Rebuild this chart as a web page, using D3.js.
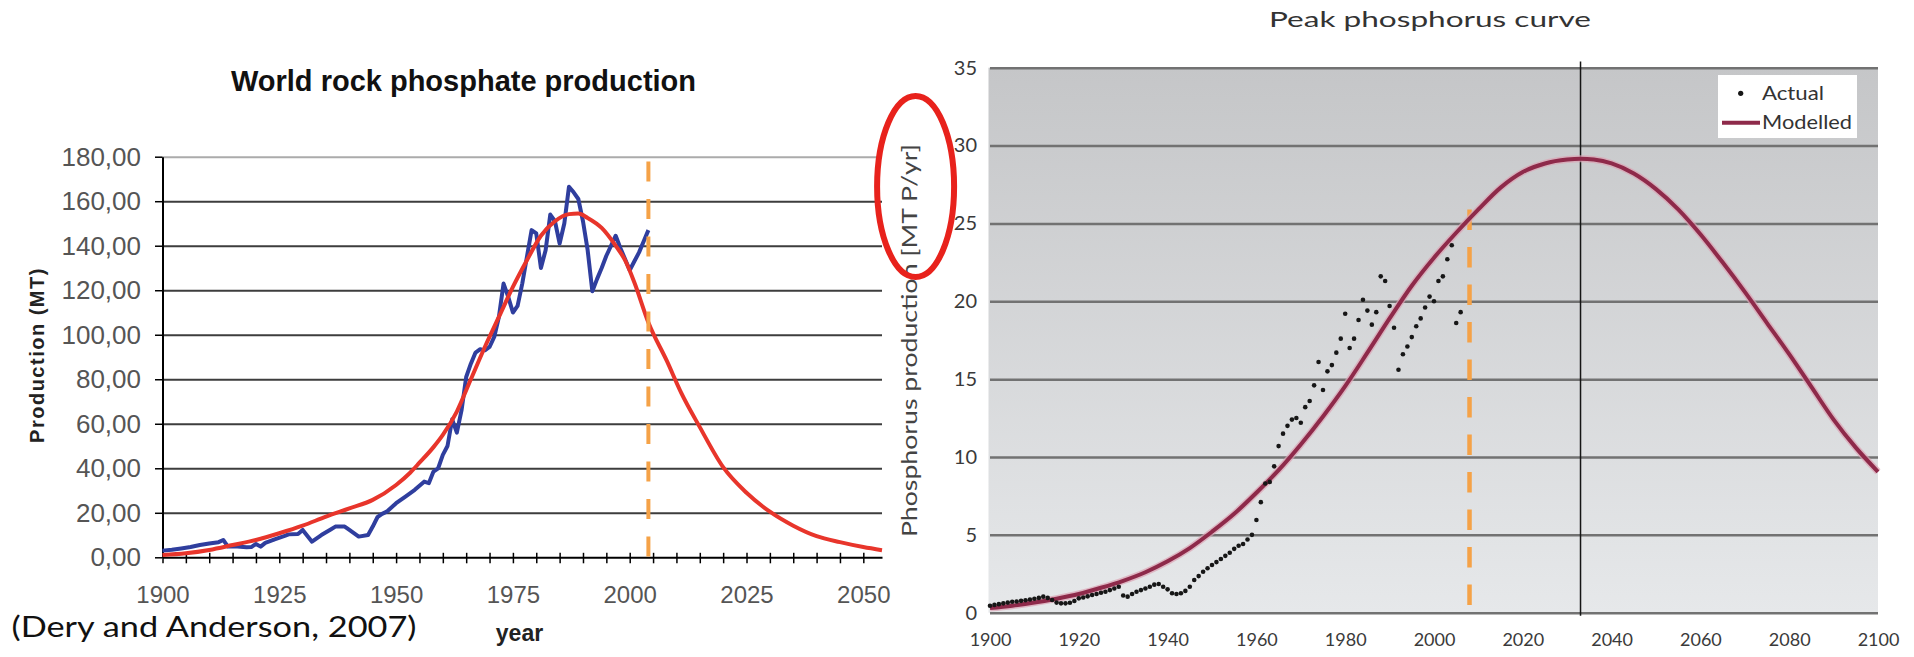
<!DOCTYPE html>
<html>
<head>
<meta charset="utf-8">
<script src="https://cdn.jsdelivr.net/npm/d3@7"></script>
<style>
  body { margin: 0; background: #fff; }
  svg { display: block; }
</style>
</head>
<body>
<svg id="chart" width="1914" height="657"></svg>
<script>
// ---- data ----

// left chart: world rock phosphate production (MT), actual and fitted
var rockActual = [
  [1900, 3.0], [1902, 3.4], [1904, 4.0], [1906, 4.6], [1908, 5.5], [1910, 6.2], [1912, 6.8],
  [1913, 7.8], [1914, 4.8], [1916, 4.8], [1918, 4.5], [1919, 4.6], [1920, 6.0], [1921, 4.8],
  [1922, 6.5], [1924, 8.1], [1926, 9.5], [1927, 10.3], [1929, 10.5], [1930, 12.3], [1932, 7.0],
  [1933, 8.5], [1934, 10.0], [1936, 12.5], [1937, 13.8], [1939, 13.8], [1940, 12.3], [1942, 9.3],
  [1944, 10.0], [1945, 13.8], [1946, 18.0], [1947, 19.5], [1948, 20.5], [1950, 24.3], [1952, 27.3],
  [1954, 30.3], [1956, 34.0], [1957, 33.3], [1958, 38.5], [1959, 40.0], [1960, 46.0], [1961, 50.0],
  [1962, 62.0], [1963, 56.0], [1964, 66.0], [1965, 81.0], [1966, 87.0], [1967, 92.0], [1968, 93.5],
  [1969, 93.0], [1970, 94.5], [1971, 99.0], [1972, 108.0], [1973, 123.0], [1974, 117.0], [1975, 110.0],
  [1976, 113.0], [1977, 123.0], [1978, 135.0], [1979, 147.0], [1980, 145.5], [1981, 130.0], [1982, 138.0],
  [1983, 154.0], [1984, 151.0], [1985, 141.0], [1986, 150.0], [1987, 166.5], [1988, 164.0], [1989, 161.0],
  [1990, 151.0], [1991, 138.0], [1992, 119.5], [1993, 125.0], [1994, 130.0], [1995, 135.5], [1996, 140.0],
  [1997, 144.5], [1998, 139.0], [1999, 134.0], [2000, 129.0], [2001, 133.0], [2002, 137.0], [2003, 142.0],
  [2004, 147.0]
];

var rockModel = [
  [1900, 1.0], [1905, 1.8], [1910, 3.3], [1915, 5.5], [1920, 7.8], [1925, 10.8], [1930, 14.2],
  [1935, 18.3], [1940, 22.0], [1945, 25.8], [1950, 32.5], [1953, 38.0], [1955, 42.5], [1958, 49.5],
  [1960, 55.0], [1963, 65.5], [1966, 80.0], [1969, 94.5], [1972, 108.0], [1975, 121.5], [1978, 133.5],
  [1981, 144.5], [1984, 151.0], [1987, 154.2], [1989, 154.5], [1991, 152.5], [1994, 148.0], [1997, 140.0],
  [1999, 133.5], [2001, 123.5], [2004, 105.5], [2008, 88.0], [2011, 74.0], [2015, 58.5], [2020, 40.5],
  [2025, 29.0], [2030, 20.5], [2035, 14.2], [2040, 9.5], [2045, 6.8], [2050, 4.6], [2054, 3.2]
];

var rockYTicks = [0, 20, 40, 60, 80, 100, 120, 140, 160, 180];
var rockXTicks = [1900, 1925, 1950, 1975, 2000, 2025, 2050];
var rockCutoffYear = 2004;

// right chart: peak phosphorus curve (MT P/yr)
var phosActual = [
  [1900, 0.45], [1901, 0.5], [1902, 0.55], [1903, 0.6], [1904, 0.65], [1905, 0.7], [1906, 0.72],
  [1907, 0.76], [1908, 0.8], [1909, 0.85], [1910, 0.9], [1911, 0.95], [1912, 1.03], [1913, 0.95],
  [1914, 0.82], [1915, 0.65], [1916, 0.6], [1917, 0.6], [1918, 0.64], [1919, 0.75], [1920, 0.92],
  [1921, 0.98], [1922, 1.05], [1923, 1.14], [1924, 1.2], [1925, 1.28], [1926, 1.35], [1927, 1.45],
  [1928, 1.55], [1929, 1.67], [1930, 1.1], [1931, 1.03], [1932, 1.2], [1933, 1.35], [1934, 1.45],
  [1935, 1.55], [1936, 1.67], [1937, 1.8], [1938, 1.84], [1939, 1.67], [1940, 1.5], [1941, 1.25],
  [1942, 1.2], [1943, 1.25], [1944, 1.4], [1945, 1.67], [1946, 2.1], [1947, 2.35], [1948, 2.63],
  [1949, 2.85], [1950, 3.06], [1951, 3.25], [1952, 3.45], [1953, 3.65], [1954, 3.85], [1955, 4.1],
  [1956, 4.3], [1957, 4.41], [1958, 4.7], [1959, 5.0], [1960, 5.95], [1961, 7.1], [1962, 8.3],
  [1963, 8.4], [1964, 9.4], [1965, 10.7], [1966, 11.5], [1967, 12.0], [1968, 12.4], [1969, 12.5],
  [1970, 12.2], [1971, 13.2], [1972, 13.6], [1973, 14.6], [1974, 16.1], [1975, 14.3], [1976, 15.5],
  [1977, 15.9], [1978, 16.7], [1979, 17.6], [1980, 19.2], [1981, 17.0], [1982, 17.6], [1983, 18.8],
  [1984, 20.1], [1985, 19.4], [1986, 18.5], [1987, 19.3], [1988, 21.6], [1989, 21.3], [1990, 19.7],
  [1991, 18.3], [1992, 15.6], [1993, 16.6], [1994, 17.1], [1995, 17.7], [1996, 18.4], [1997, 18.9],
  [1998, 19.6], [1999, 20.3], [2000, 20.0], [2001, 21.3], [2002, 21.6], [2003, 22.7], [2004, 23.6],
  [2005, 18.6], [2006, 19.3]
];

var phosModel = [
  [1900, 0.3], [1905, 0.45], [1910, 0.65], [1915, 0.9], [1920, 1.2], [1925, 1.6], [1930, 2.05],
  [1935, 2.6], [1940, 3.3], [1945, 4.15], [1950, 5.2], [1955, 6.35], [1960, 7.7], [1965, 9.15],
  [1970, 10.8], [1975, 12.6], [1980, 14.55], [1985, 16.7], [1990, 18.9], [1995, 21.0], [2000, 22.8],
  [2005, 24.4], [2010, 25.9], [2015, 27.3], [2020, 28.3], [2025, 28.85], [2030, 29.1], [2033, 29.15],
  [2036, 29.1], [2040, 28.85], [2045, 28.2], [2050, 27.2], [2055, 25.9], [2060, 24.3], [2065, 22.5],
  [2070, 20.6], [2075, 18.6], [2080, 16.6], [2085, 14.5], [2090, 12.4], [2095, 10.6], [2100, 9.05]
];

var phosYTicks = [0, 5, 10, 15, 20, 25, 30, 35];
var phosXTicks = [1900, 1920, 1940, 1960, 1980, 2000, 2020, 2040, 2060, 2080, 2100];
var phosCutoffYear = 2008;
var phosPeakYear = 2033;

// ---- drawing ----
var svg = d3.select('#chart');

// ===== left chart =====
var xRock = d3.scaleLinear().domain([1900, 2054]).range([162.5, 882]);
var yRock = d3.scaleLinear().domain([0, 180]).range([557.3, 156.7]);
var rockWidth = xRock.range()[1] - xRock.range()[0];
var armFont = "'Liberation Sans', Arial, sans-serif";

var rockG = svg.append('g').attr('font-family', armFont);

// horizontal gridlines
var rockGrid = rockG.append('g')
  .attr('transform', 'translate(' + xRock(1900) + ',0)')
  .call(d3.axisLeft(yRock).tickValues(rockYTicks.slice(1)).tickSize(-rockWidth).tickFormat(''));
rockGrid.select('.domain').remove();
rockGrid.selectAll('.tick line')
  .attr('stroke', function(d) { return d === 180 ? '#ababab' : '#3d3d3d'; })
  .attr('stroke-width', 2);

// y axis with comma decimals
var commaFmt = function(d) { return d3.format('.2f')(d).replace('.', ','); };
var rockY = rockG.append('g')
  .attr('transform', 'translate(' + xRock(1900) + ',0)')
  .call(d3.axisLeft(yRock).tickValues(rockYTicks).tickSize(7.5).tickSizeOuter(0).tickPadding(14).tickFormat(commaFmt));
rockY.attr('font-size', 26).attr('font-family', armFont);
rockY.select('.domain').attr('stroke', '#000').attr('stroke-width', 2);
rockY.selectAll('.tick line').attr('stroke', '#000').attr('stroke-width', 1.5);
rockY.selectAll('text').attr('fill', '#555');

// x axis: tick marks every 5 years crossing the axis
var rockX = rockG.append('g')
  .attr('transform', 'translate(0,' + yRock(0) + ')')
  .call(d3.axisBottom(xRock).tickValues(d3.range(1900, 2051, 5)).tickSize(6).tickSizeOuter(0).tickFormat(''));
rockX.select('.domain').attr('stroke', '#000').attr('stroke-width', 2);
rockX.selectAll('.tick line').attr('y1', -4.5).attr('stroke', '#000').attr('stroke-width', 1.5);

// x labels
var rockXLab = rockG.append('g')
  .attr('transform', 'translate(0,' + yRock(0) + ')')
  .call(d3.axisBottom(xRock).tickValues(rockXTicks).tickSize(0).tickPadding(29).tickFormat(d3.format('d')));
rockXLab.attr('font-size', 24).attr('font-family', armFont);
rockXLab.select('.domain').remove();
rockXLab.selectAll('text').attr('fill', '#555');

// series
var rockLine = d3.line()
  .x(function(d) { return xRock(d[0]); })
  .y(function(d) { return yRock(d[1]); });

rockG.append('path')
  .datum(rockActual)
  .attr('d', rockLine)
  .attr('fill', 'none')
  .attr('stroke', '#2f3e9e')
  .attr('stroke-width', 4)
  .attr('stroke-linejoin', 'round');

rockG.append('path')
  .datum(rockModel)
  .attr('d', rockLine.curve(d3.curveMonotoneX))
  .attr('fill', 'none')
  .attr('stroke', '#e8352b')
  .attr('stroke-width', 4);

// orange cut-off marker
rockG.append('line')
  .attr('x1', xRock(rockCutoffYear)).attr('x2', xRock(rockCutoffYear))
  .attr('y1', yRock(177.8)).attr('y2', yRock(0.2))
  .attr('stroke', '#f5a247')
  .attr('stroke-width', 4)
  .attr('stroke-dasharray', '20,17.5');

// titles
rockG.append('text')
  .attr('x', 463.5).attr('y', 91)
  .attr('text-anchor', 'middle')
  .attr('font-size', 29).attr('font-weight', 'bold')
  .attr('fill', '#111')
  .text('World rock phosphate production');

rockG.append('text')
  .attr('transform', 'translate(37,355) rotate(-90)')
  .attr('dy', '0.35em')
  .attr('text-anchor', 'middle')
  .attr('font-size', 20).attr('font-weight', 'bold')
  .attr('letter-spacing', 1.5)
  .attr('fill', '#222')
  .text('Production (MT)');

rockG.append('text')
  .attr('x', 519.5).attr('y', 641)
  .attr('text-anchor', 'middle')
  .attr('font-size', 23).attr('font-weight', 'bold')
  .attr('fill', '#222')
  .text('year');

svg.append('text')
  .attr('x', 11.5).attr('y', 637)
  .attr('font-family', "Lato, 'Open Sans', sans-serif")
  .attr('font-size', 28)
  .attr('textLength', 405)
  .attr('lengthAdjust', 'spacingAndGlyphs')
  .attr('fill', '#111')
  .text('(Dery and Anderson, 2007)');

// ===== right chart =====
var xPhos = d3.scaleLinear().domain([1900, 2100]).range([990, 1878]);
var yPhos = d3.scaleLinear().domain([0, 35]).range([612.7, 67.7]);
var phosFont = "Lato, 'DejaVu Sans', sans-serif";

var phosG = svg.append('g').attr('font-family', phosFont);

// gray gradient plot background
var grad = svg.append('defs').append('linearGradient')
  .attr('id', 'phosBg')
  .attr('x1', 0).attr('y1', 0).attr('x2', 0).attr('y2', 1);
grad.append('stop').attr('offset', 0).attr('stop-color', '#c5c6c8');
grad.append('stop').attr('offset', 1).attr('stop-color', '#e6e8ea');

phosG.append('rect')
  .attr('x', xPhos(1900) - 1.5).attr('y', yPhos(35))
  .attr('width', xPhos(2100) - xPhos(1900) + 1.5)
  .attr('height', yPhos(0) - yPhos(35))
  .attr('fill', 'url(#phosBg)');

// gridlines
var phosGrid = phosG.append('g')
  .attr('transform', 'translate(' + xPhos(1900) + ',0)')
  .call(d3.axisLeft(yPhos).tickValues(phosYTicks).tickSize(-(xPhos(2100) - xPhos(1900))).tickFormat(''));
phosGrid.select('.domain').remove();
phosGrid.selectAll('.tick line').attr('stroke', '#727272').attr('stroke-width', 2.5);

// y labels
var phosY = phosG.append('g')
  .attr('transform', 'translate(' + xPhos(1900) + ',0)')
  .call(d3.axisLeft(yPhos).tickValues(phosYTicks).tickSize(0).tickPadding(13));
phosY.attr('font-size', 20).attr('font-family', phosFont);
phosY.select('.domain').remove();
phosY.selectAll('text').attr('fill', '#3a3a3a');

// x labels
var phosX = phosG.append('g')
  .attr('transform', 'translate(0,' + yPhos(0) + ')')
  .call(d3.axisBottom(xPhos).tickValues(phosXTicks).tickSize(0).tickPadding(21).tickFormat(d3.format('d')));
phosX.attr('font-size', 18).attr('font-family', phosFont);
phosX.select('.domain').remove();
phosX.selectAll('text').attr('fill', '#3a3a3a');

// peak marker
phosG.append('line')
  .attr('x1', xPhos(phosPeakYear)).attr('x2', xPhos(phosPeakYear))
  .attr('y1', yPhos(35.4)).attr('y2', yPhos(-0.2))
  .attr('stroke', '#151515')
  .attr('stroke-width', 1.5);

// orange cut-off marker
phosG.append('line')
  .attr('x1', xPhos(phosCutoffYear)).attr('x2', xPhos(phosCutoffYear))
  .attr('y1', yPhos(25.9)).attr('y2', yPhos(0.4))
  .attr('stroke', '#f5a247')
  .attr('stroke-width', 4.5)
  .attr('stroke-dasharray', '20.5,17');

// modelled curve, with a soft pink halo like the scan
var phosLine = d3.line()
  .x(function(d) { return xPhos(d[0]); })
  .y(function(d) { return yPhos(d[1]); })
  .curve(d3.curveMonotoneX);

phosG.append('path')
  .datum(phosModel)
  .attr('d', phosLine)
  .attr('fill', 'none')
  .attr('stroke', '#dca2b4')
  .attr('stroke-opacity', 0.7)
  .attr('stroke-width', 7);

phosG.append('path')
  .datum(phosModel)
  .attr('d', phosLine)
  .attr('fill', 'none')
  .attr('stroke', '#8e2a4a')
  .attr('stroke-width', 4);

// actual dots
phosG.selectAll('circle.actual')
  .data(phosActual)
  .enter()
  .append('circle')
  .attr('class', 'actual')
  .attr('cx', function(d) { return xPhos(d[0]); })
  .attr('cy', function(d) { return yPhos(d[1]); })
  .attr('r', 2.3)
  .attr('fill', '#161616');

// legend
var legend = phosG.append('g');
legend.append('rect')
  .attr('x', 1718).attr('y', 75)
  .attr('width', 139).attr('height', 63)
  .attr('fill', '#fff');
legend.append('circle')
  .attr('cx', 1740.7).attr('cy', 93.3).attr('r', 2.6)
  .attr('fill', '#161616');
legend.append('text')
  .attr('x', 1762).attr('y', 93.3).attr('dy', '0.35em')
  .attr('font-size', 19).attr('textLength', 62)
  .attr('lengthAdjust', 'spacingAndGlyphs')
  .attr('fill', '#333')
  .text('Actual');
legend.append('line')
  .attr('x1', 1722).attr('x2', 1760)
  .attr('y1', 122.7).attr('y2', 122.7)
  .attr('stroke', '#8e2a4a').attr('stroke-width', 4);
legend.append('text')
  .attr('x', 1762).attr('y', 122.7).attr('dy', '0.35em')
  .attr('font-size', 19).attr('textLength', 90)
  .attr('lengthAdjust', 'spacingAndGlyphs')
  .attr('fill', '#333')
  .text('Modelled');

// titles
phosG.append('text')
  .attr('x', 1430).attr('y', 27)
  .attr('text-anchor', 'middle')
  .attr('font-size', 21)
  .attr('textLength', 322)
  .attr('lengthAdjust', 'spacingAndGlyphs')
  .attr('fill', '#333')
  .text('Peak phosphorus curve');

phosG.append('text')
  .attr('transform', 'translate(910,340.6) rotate(-90)')
  .attr('dy', '0.35em')
  .attr('text-anchor', 'middle')
  .attr('font-size', 21)
  .attr('textLength', 393)
  .attr('lengthAdjust', 'spacingAndGlyphs')
  .attr('fill', '#444')
  .text('Phosphorus production [MT P/yr]');

// red highlight ellipse around the unit
svg.append('ellipse')
  .attr('cx', 915.6).attr('cy', 186.5)
  .attr('rx', 38.5).attr('ry', 90.5)
  .attr('fill', 'none')
  .attr('stroke', '#e8221c')
  .attr('stroke-width', 6);
</script>
</body>
</html>
